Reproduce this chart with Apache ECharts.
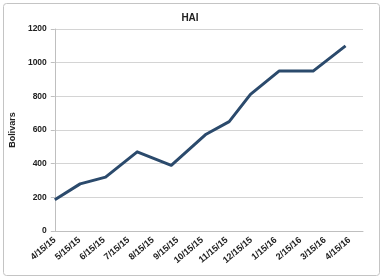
<!DOCTYPE html>
<html>
<head>
<meta charset="utf-8">
<script src="https://cdn.jsdelivr.net/npm/echarts@6/dist/echarts.min.js"></script>
<style>html,body{margin:0;padding:0;background:#fff}#c{width:380px;height:276px}</style>
</head>
<body>
<div id="c"></div>
<script>
const tickLabels = ['4/15/15','5/15/15','6/15/15','7/15/15','8/15/15','9/15/15','10/15/15','11/15/15','12/15/15','1/15/16','2/15/16','3/15/16','4/15/16'];
const dates = ['2015-04-15','2015-05-16','2015-06-17','2015-07-26','2015-09-07','2015-10-20','2015-11-18','2015-12-14','2016-01-19','2016-03-01','2016-04-10'];
const values = [186, 280, 320, 470, 390, 575, 650, 812, 950, 950, 1100];

function monthOffset(s) {
  const p = s.split('-').map(Number);
  const t = Date.UTC(p[0], p[1] - 1, p[2]);
  let y = p[0], m = p[1] - 1;
  if (p[2] < 15) { m -= 1; if (m < 0) { m = 11; y -= 1; } }
  const a = Date.UTC(y, m, 15), b = Date.UTC(y, m + 1, 15);
  return (y - 2015) * 12 + (m - 3) + (t - a) / (b - a);
}

const seriesData = dates.map((d, i) => [monthOffset(d), values[i]]);
const font = 'Liberation Sans, Arial, sans-serif';
const chart = echarts.init(document.getElementById('c'));
chart.setOption({
  animation: false,
  backgroundColor: '#fff',
  title: {
    text: 'HAI', left: 'center', top: 8,
    textStyle: { fontFamily: font, fontSize: 10, fontWeight: 'bold', color: '#222' }
  },
  grid: { left: 52, right: 17, top: 29, bottom: 45 },
  xAxis: {
    type: 'value', min: 0, max: 12.55, interval: 1,
    axisLine: { lineStyle: { color: '#bfbfbf', width: 1 } },
    axisTick: { show: false },
    splitLine: { show: false },
    axisLabel: {
      rotate: 40, margin: 8, showMaxLabel: false,
      fontFamily: font, fontSize: 9, fontWeight: 'bold', color: '#222',
      formatter: v => Number.isInteger(v) && tickLabels[v] ? tickLabels[v] : ''
    }
  },
  yAxis: {
    type: 'value', min: 0, max: 1200, interval: 200,
    name: 'Bolivars', nameLocation: 'middle', nameGap: 36,
    nameTextStyle: { fontFamily: font, fontSize: 9, fontWeight: 'bold', color: '#222' },
    axisLine: { show: true, lineStyle: { color: '#bfbfbf', width: 1 } },
    axisTick: { show: true, length: 4, lineStyle: { color: '#bfbfbf' } },
    splitLine: { lineStyle: { color: '#d4d4d4', width: 1 } },
    axisLabel: { margin: 8, fontFamily: font, fontSize: 8.5, fontWeight: 'bold', color: '#222', formatter: v => String(v) }
  },
  series: [{
    type: 'line', data: seriesData, showSymbol: false, symbol: 'none',
    lineStyle: { color: '#2b4a6c', width: 3, join: 'round' }
  }],
  graphic: [{
    type: 'rect', left: 1, top: 1, silent: true,
    shape: { width: 376, height: 272, r: 3 },
    style: { fill: 'none', stroke: '#c4c4c4', lineWidth: 1 }
  }]
});
</script>
</body>
</html>
